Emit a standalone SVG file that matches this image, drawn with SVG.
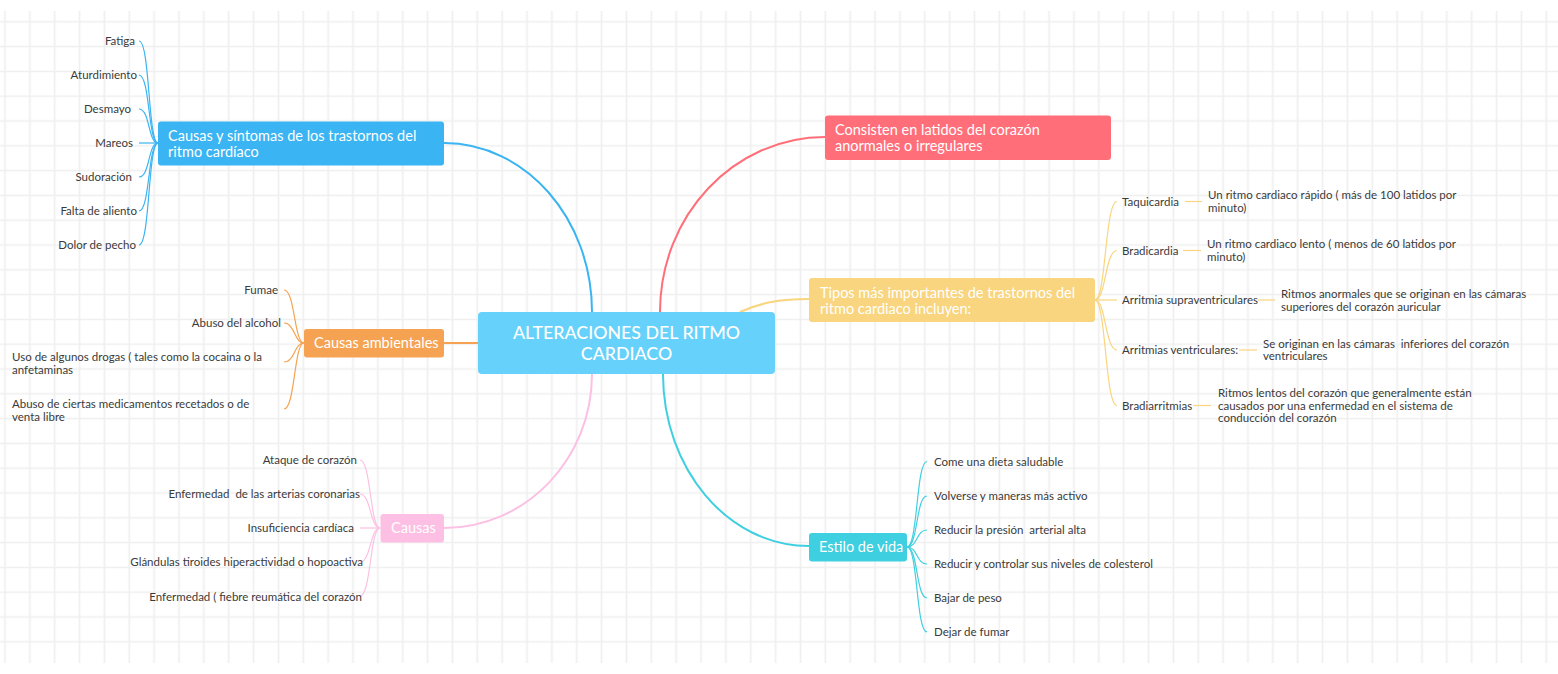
<svg xmlns="http://www.w3.org/2000/svg" width="1558" height="674" viewBox="0 0 1558 674">
<defs>
<pattern id="grid" patternUnits="userSpaceOnUse" x="-7.43" y="9.4" width="24.86" height="24.8">
<path d="M12.43,0V24.8M0,12.4H24.86" stroke="#efefef" stroke-width="1.7" fill="none"/>
</pattern>
</defs>
<style>
text{font-family:Lato,"Liberation Sans",sans-serif}
.leaf{font-size:11.5px;fill:#3a3a3a}
.end{text-anchor:end}
.pre{white-space:pre}
.nt{font-size:14.5px;fill:#ffffff}
.title{font-size:17.8px;fill:#ffffff;text-anchor:middle;font-weight:500}
.main{fill:none;stroke-width:2}
.sub{fill:none;stroke-width:1.2}
.blue{stroke:#3ab4f2}
.red{stroke:#ff6e79}
.yel{stroke:#f8d57e}
.ora{stroke:#f5a352}
.pink{stroke:#fbc0e3}
.cyan{stroke:#3ecfe0}
</style>
<rect x="0" y="0" width="1558" height="674" fill="#ffffff"/>
<rect x="0" y="11" width="1558" height="652" fill="url(#grid)"/>

<g id="connectors">
<path class="main blue" d="M592,312 C592,218.7 525.7,143 444,143"/>
<path class="main red" d="M660,312 C660,215.4 733.9,137 825,137"/>
<path class="main yel" d="M740,312 C762,302 782,299 809,299"/>
<path class="main ora" d="M444,343 L478,343"/>
<path class="main pink" d="M592,374 C592,459 526,528 444,528"/>
<path class="main cyan" d="M663,374 C663,469 728,546 809,546"/>

<path class="sub blue" d="M158,143 C148,143 150,41 139,41"/>
<path class="sub blue" d="M158,143 C148,143 150,75 139,75"/>
<path class="sub blue" d="M158,143 C148,143 150,109 139,109"/>
<path class="sub blue" d="M158,143 L139,143"/>
<path class="sub blue" d="M158,143 C148,143 150,177 139,177"/>
<path class="sub blue" d="M158,143 C148,143 150,211 139,211"/>
<path class="sub blue" d="M158,143 C148,143 150,245 139,245"/>

<path class="sub ora" d="M304,343 C294,343 295,290 284,290"/>
<path class="sub ora" d="M304,343 C294,343 295,323 284,323"/>
<path class="sub ora" d="M304,343 C294,343 295,362 284,362"/>
<path class="sub ora" d="M304,343 C294,343 295,409 284,409"/>

<path class="sub pink" d="M380,528 C370,528 371,460 360,460"/>
<path class="sub pink" d="M380,528 C370,528 371,494 360,494"/>
<path class="sub pink" d="M380,528 L360,528"/>
<path class="sub pink" d="M380,528 C370,528 371,562 360,562"/>
<path class="sub pink" d="M380,528 C370,528 371,596 360,596"/>

<path class="sub yel" d="M1095,300 C1106,300 1105,201.5 1117,201.5"/>
<path class="sub yel" d="M1095,300 C1106,300 1105,250.5 1117,250.5"/>
<path class="sub yel" d="M1095,300 L1117,300"/>
<path class="sub yel" d="M1095,300 C1106,300 1105,350 1117,350"/>
<path class="sub yel" d="M1095,300 C1106,300 1105,405.5 1117,405.5"/>
<path class="sub yel" d="M1185,201.5 H1202"/>
<path class="sub yel" d="M1183,250.5 H1201"/>
<path class="sub yel" d="M1258,300 H1275"/>
<path class="sub yel" d="M1239,350 H1257"/>
<path class="sub yel" d="M1193,405.5 H1211"/>

<path class="sub cyan" d="M907,547 C918,547 916,461.5 927,461.5"/>
<path class="sub cyan" d="M907,547 C918,547 916,496 927,496"/>
<path class="sub cyan" d="M907,547 C918,547 916,530 927,530"/>
<path class="sub cyan" d="M907,547 C918,547 916,564 927,564"/>
<path class="sub cyan" d="M907,547 C918,547 916,598 927,598"/>
<path class="sub cyan" d="M907,547 C918,547 916,632 927,632"/>
</g>

<g id="central">
<rect x="478" y="312" width="297" height="62" rx="4" fill="#66d1fa"/>
<text class="title" x="626.5" y="339">ALTERACIONES DEL RITMO</text>
<text class="title" x="626.5" y="360">CARDIACO</text>
</g>

<g id="n-sintomas">
<rect x="158" y="121.5" width="286" height="44" rx="3" fill="#3ab4f2"/>
<text class="nt" x="168" y="141">Causas y síntomas de los trastornos del</text>
<text class="nt" x="168" y="157">ritmo cardíaco</text>
</g>
<g id="l-fatiga"><text class="leaf end" x="135" y="45">Fatiga</text></g>
<g id="l-aturdimiento"><text class="leaf end" x="137" y="79">Aturdimiento</text></g>
<g id="l-desmayo"><text class="leaf end" x="131" y="113">Desmayo</text></g>
<g id="l-mareos"><text class="leaf end" x="133" y="147">Mareos</text></g>
<g id="l-sudoracion"><text class="leaf end" x="132" y="181">Sudoración</text></g>
<g id="l-falta"><text class="leaf end" x="137" y="215">Falta de aliento</text></g>
<g id="l-dolor"><text class="leaf end" x="136" y="249">Dolor de pecho</text></g>

<g id="n-ambientales">
<rect x="304" y="329" width="140" height="28.5" rx="3" fill="#f5a352"/>
<text class="nt" x="314" y="348">Causas ambientales</text>
</g>
<g id="l-fumae"><text class="leaf end" x="278" y="294">Fumae</text></g>
<g id="l-alcohol"><text class="leaf end" x="281" y="327">Abuso del alcohol</text></g>
<g id="l-drogas"><text class="leaf" x="12" y="361">Uso de algunos drogas ( tales como la cocaina o la</text><text class="leaf" x="12" y="373.5">anfetaminas</text></g>
<g id="l-medicamentos"><text class="leaf" x="12" y="408">Abuso de ciertas medicamentos recetados o de</text><text class="leaf" x="12" y="420.5">venta libre</text></g>

<g id="n-causas">
<rect x="380.5" y="514" width="63.5" height="28.5" rx="3" fill="#fdbfe3"/>
<text class="nt" x="391" y="533">Causas</text>
</g>
<g id="l-ataque"><text class="leaf end" x="357" y="464">Ataque de corazón</text></g>
<g id="l-arterias"><text class="leaf end pre" x="360" y="498">Enfermedad  de las arterias coronarias</text></g>
<g id="l-insuficiencia"><text class="leaf end" x="354" y="532">Insuficiencia cardíaca</text></g>
<g id="l-glandulas"><text class="leaf end" x="363" y="566">Glándulas tiroides hiperactividad o hopoactiva</text></g>
<g id="l-fiebre"><text class="leaf end" x="362" y="600.5">Enfermedad ( fiebre reumática del corazón</text></g>

<g id="n-consisten">
<rect x="825" y="115.5" width="286" height="44.5" rx="3" fill="#ff6e79"/>
<text class="nt" x="835" y="135">Consisten en latidos del corazón</text>
<text class="nt" x="835" y="151">anormales o irregulares</text>
</g>

<g id="n-tipos">
<rect x="809" y="278" width="286" height="44" rx="3" fill="#f8d57e"/>
<text class="nt" x="820" y="297.5">Tipos más importantes de trastornos del</text>
<text class="nt" x="820" y="313.5">ritmo cardiaco incluyen:</text>
</g>
<g id="l-taquicardia"><text class="leaf" x="1122" y="205.5">Taquicardia</text></g>
<g id="d-taquicardia"><text class="leaf" x="1208" y="199">Un ritmo cardiaco rápido ( más de 100 latidos por</text><text class="leaf" x="1208" y="211.5">minuto)</text></g>
<g id="l-bradicardia"><text class="leaf" x="1122" y="254.5">Bradicardia</text></g>
<g id="d-bradicardia"><text class="leaf" x="1207" y="248">Un ritmo cardiaco lento ( menos de 60 latidos por</text><text class="leaf" x="1207" y="260.5">minuto)</text></g>
<g id="l-supra"><text class="leaf" x="1122" y="304">Arritmia supraventriculares</text></g>
<g id="d-supra"><text class="leaf" x="1281" y="298">Ritmos anormales que se originan en las cámaras</text><text class="leaf" x="1281" y="310.5">superiores del corazón auricular</text></g>
<g id="l-ventri"><text class="leaf" x="1122" y="354">Arritmias ventriculares:</text></g>
<g id="d-ventri"><text class="leaf pre" x="1263" y="347.5">Se originan en las cámaras  inferiores del corazón</text><text class="leaf" x="1263" y="360">ventriculares</text></g>
<g id="l-bradiarr"><text class="leaf" x="1122" y="409.5">Bradiarritmias</text></g>
<g id="d-bradiarr"><text class="leaf" x="1218" y="396.5">Ritmos lentos del corazón que generalmente están</text><text class="leaf" x="1218" y="409.5">causados por una enfermedad en el sistema de</text><text class="leaf" x="1218" y="422">conducción del corazón</text></g>

<g id="n-estilo">
<rect x="809" y="533" width="98" height="28.5" rx="3" fill="#3ecfe0"/>
<text class="nt" x="819" y="552">Estilo de vida</text>
</g>
<g id="l-dieta"><text class="leaf" x="934" y="465.5">Come una dieta saludable</text></g>
<g id="l-activo"><text class="leaf" x="934" y="500">Volverse y maneras más activo</text></g>
<g id="l-presion"><text class="leaf pre" x="934" y="534">Reducir la presión  arterial alta</text></g>
<g id="l-colesterol"><text class="leaf" x="934" y="568">Reducir y controlar sus niveles de colesterol</text></g>
<g id="l-peso"><text class="leaf" x="934" y="602">Bajar de peso</text></g>
<g id="l-fumar"><text class="leaf" x="934" y="636">Dejar de fumar</text></g>
</svg>
